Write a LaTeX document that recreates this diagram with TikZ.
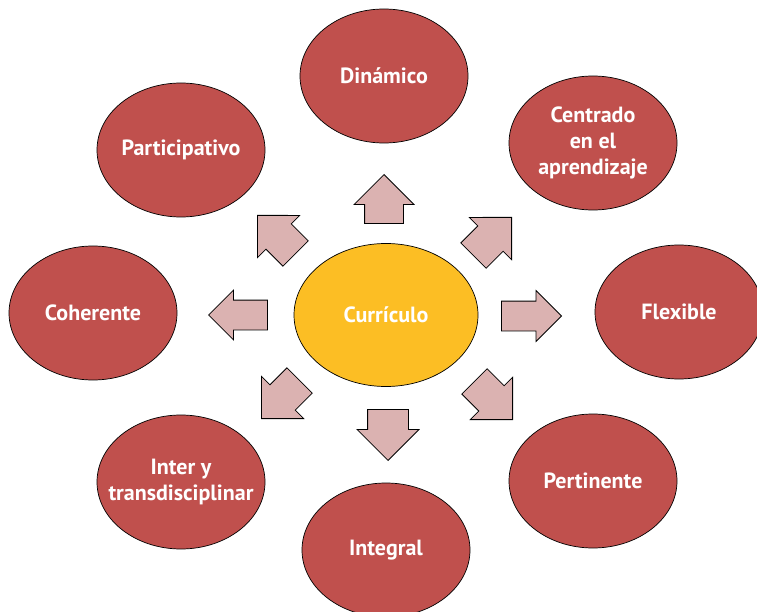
\documentclass[tikz,border=0pt]{standalone}
\usepackage{fontspec}
\setmainfont{PT Sans}
\usetikzlibrary{shapes.geometric, shapes.arrows}

\definecolor{rojo}{RGB}{192,80,77}
\definecolor{amarillo}{RGB}{252,190,36}
\definecolor{rosa}{RGB}{219,178,177}

\tikzset{
	idea/.style = {ellipse, draw = black, line width = 0.7pt, fill = rojo, text = white,
		minimum width = 168pt, minimum height = 134pt, inner sep = -20pt, align = center,
		font = \fontsize{22}{26}\selectfont\bfseries},
	centro/.style = {idea, fill = amarillo, minimum width = 184pt, minimum height = 143pt},
	flecha/.style = {single arrow, draw = black, line width = 0.8pt, fill = rosa, anchor = tip,
		inner xsep = 0pt, minimum width = 0pt, single arrow head extend = 10.5pt}
}

\begin{document}
\begin{tikzpicture}[x = 1pt, y = -1pt]
	
	\clip (0, 0) rectangle (757, 612);
	
	% The center
	
	\node [centro] (curriculo) at (386, 315) {Currículo};
	
	% The ideas around it
	
	\node [idea] (dinamico) at (384, 76) {Dinámico};
	\node [idea] (centrado) at (593, 143) {Centrado\\en el\\aprendizaje};
	\node [idea] (flexible) at (679, 312) {Flexible};
	\node [idea] (pertinente) at (593, 481) {Pertinente};
	\node [idea] (integral) at (386, 550) {Integral};
	\node [idea] (inter) at (181, 482) {Inter y\\transdisciplinar};
	\node [idea] (coherente) at (93, 313) {Coherente};
	\node [idea] (participativo) at (181, 150) {Participativo};
	
	% The arrows, placed by their tips
	
	\node [flecha, rotate = 90, minimum height = 49pt, inner ysep = 19pt] (fArriba) at (384, 174) {};
	\node [flecha, rotate = -90, minimum height = 51pt, inner ysep = 20pt] (fAbajo) at (388, 461) {};
	\node [flecha, rotate = 180, minimum height = 59pt, inner ysep = 14.5pt, single arrow head extend = 10pt] (fIzquierda) at (208, 315) {};
	\node [flecha, minimum height = 60pt, inner ysep = 14.5pt] (fDerecha) at (562, 316) {};
	\node [flecha, rotate = 45, minimum height = 54pt, inner ysep = 17.5pt, single arrow head extend = 12pt] (fNE) at (512, 217) {};
	\node [flecha, rotate = 135, minimum height = 54pt, inner ysep = 17.5pt, single arrow head extend = 12pt] (fNO) at (257, 215) {};
	\node [flecha, rotate = 225, minimum height = 54pt, inner ysep = 17.5pt, single arrow head extend = 12pt] (fSO) at (261, 419) {};
	\node [flecha, rotate = -45, minimum height = 54pt, inner ysep = 17.5pt, single arrow head extend = 12pt] (fSE) at (513, 420) {};

\end{tikzpicture}
\end{document}
